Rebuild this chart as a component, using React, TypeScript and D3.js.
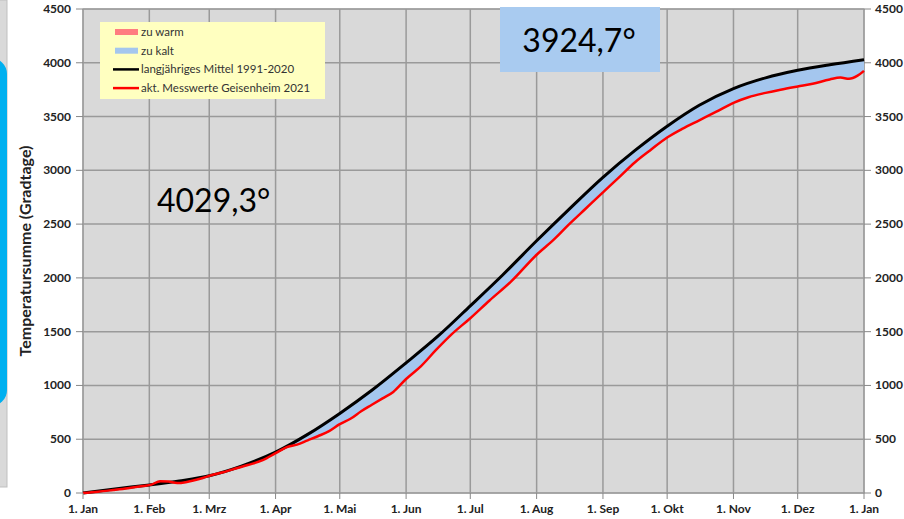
import React from 'react';
import * as d3 from 'd3';

// long-term mean 1991-2020 (day of year, cumulative Gradtage)
const meanDays = [0, 15, 31, 45, 59, 74, 90, 105, 120, 135, 151, 166, 181, 196, 212, 227, 243, 258, 273, 288, 304, 319, 334, 349, 365];
const meanVals = [0, 38, 75, 112, 160, 250, 380, 545, 740, 955, 1210, 1460, 1740, 2025, 2345, 2635, 2935, 3185, 3410, 3605, 3760, 3860, 3930, 3982, 4029.3];

// measured Geisenheim 2021
const actDays = [0, 7, 14, 21, 28, 32, 36, 40, 44, 48, 52, 56, 60, 65, 70, 77, 84, 90, 95, 100, 105, 110, 115, 120, 125, 130, 135, 140, 145, 151, 158, 165, 172, 181, 190, 200, 212, 220, 227, 235, 243, 250, 258, 265, 273, 280, 288, 296, 304, 311, 319, 326, 334, 341, 349, 354, 358, 362, 365];
const actVals = [0, 12, 28, 45, 65, 78, 110, 106, 92, 100, 118, 140, 165, 190, 220, 260, 305, 370, 425, 450, 490, 530, 575, 640, 690, 760, 820, 880, 940, 1060, 1180, 1330, 1470, 1625, 1790, 1965, 2215, 2355, 2495, 2645, 2795, 2925, 3075, 3185, 3305, 3385, 3465, 3545, 3628, 3680, 3720, 3750, 3780, 3805, 3845, 3862, 3852, 3880, 3924.7];

const monthLabels = ['1. Jan', '1. Feb', '1. Mrz', '1. Apr', '1. Mai', '1. Jun', '1. Jul', '1. Aug', '1. Sep', '1. Okt', '1. Nov', '1. Dez', '1. Jan'];
const monthStarts = [0, 31, 59, 90, 120, 151, 181, 212, 243, 273, 304, 334, 365];
const yTicks = [0, 500, 1000, 1500, 2000, 2500, 3000, 3500, 4000, 4500];

const legendItems = [
  { label: 'zu warm', kind: 'patch', color: '#ff7c80' },
  { label: 'zu kalt', kind: 'patch', color: '#a4c6ee' },
  { label: 'langjähriges Mittel 1991-2020', kind: 'line', color: '#000' },
  { label: 'akt. Messwerte Geisenheim 2021', kind: 'line', color: '#ff0000' },
];

const W = 904;
const H = 519;
const m = { left: 83, right: 864, top: 9, bottom: 493 };
const font = 'Lato, "Open Sans", sans-serif';

export default function App() {
  const x = d3.scaleLinear().domain([0, 365]).range([m.left, m.right]);
  const y = d3.scaleLinear().domain([0, 4500]).range([m.bottom, m.top]);

  const mean = meanDays.map((d, i) => [d, meanVals[i]] as [number, number]);
  const act = actDays.map((d, i) => [d, actVals[i]] as [number, number]);

  const curve = d3.curveMonotoneX;
  const line = d3.line<[number, number]>().x(d => x(d[0])).y(d => y(d[1])).curve(curve);

  const below = (pts: [number, number][]) =>
    d3.area<[number, number]>().x(d => x(d[0])).y0(y(0)).y1(d => y(d[1])).curve(curve)(pts) || '';
  const above = (pts: [number, number][]) =>
    d3.area<[number, number]>().x(d => x(d[0])).y0(y(4500)).y1(d => y(d[1])).curve(curve)(pts) || '';

  return (
    <svg width={W} height={H} style={{ position: 'absolute', left: 0, top: 0, background: '#fff' }}>
      <defs>
        <clipPath id="belowMean"><path d={below(mean)} /></clipPath>
        <clipPath id="aboveMean"><path d={above(mean)} /></clipPath>
      </defs>

      {/* left edge decoration */}
      <rect x={-2} y={0} width={9} height={487} fill="#d9d9d9" stroke="#bfbfbf" />
      <rect x={-25} y={58} width={32} height={348} rx={16} fill="#00b0f0" />

      {/* plot area */}
      <rect x={m.left} y={m.top} width={m.right - m.left} height={m.bottom - m.top} fill="#d9d9d9" stroke="#a6a6a6" />
      {yTicks.map(t => (
        <line key={'gy' + t} x1={m.left} x2={m.right} y1={y(t)} y2={y(t)} stroke="#9a9a9a" strokeWidth={1.5} />
      ))}
      {monthStarts.map((d, i) => (
        <line key={'gx' + i} x1={x(d)} x2={x(d)} y1={m.top} y2={m.bottom} stroke="#9a9a9a" strokeWidth={1.5} />
      ))}

      {/* difference fills */}
      <path d={above(act)} fill="#a4c6ee" clipPath="url(#belowMean)" />
      <path d={below(act)} fill="#ff7c80" clipPath="url(#aboveMean)" />

      <path d={line(mean) || ''} fill="none" stroke="#000" strokeWidth={3} />
      <path d={line(act) || ''} fill="none" stroke="#ff0000" strokeWidth={2.5} />

      {/* axes */}
      <g fontFamily={font} fontWeight="bold" fontSize={12} fill="#222">
        {yTicks.map(t => (
          <g key={'ty' + t}>
            <line x1={m.left - 7} x2={m.left} y1={y(t)} y2={y(t)} stroke="#888" />
            <line x1={m.right} x2={m.right + 7} y1={y(t)} y2={y(t)} stroke="#888" />
            <text x={m.left - 12} y={y(t) + 4} textAnchor="end">{t}</text>
            <text x={m.right + 11} y={y(t) + 4} textAnchor="start">{t}</text>
          </g>
        ))}
        {monthStarts.map((d, i) => (
          <g key={'tx' + i}>
            <line x1={x(d)} x2={x(d)} y1={m.bottom} y2={m.bottom + 6} stroke="#888" />
            <text x={x(d)} y={m.bottom + 20} textAnchor="middle">{monthLabels[i]}</text>
          </g>
        ))}
        <text transform={`translate(31,${(m.top + m.bottom) / 2}) rotate(-90)`} textAnchor="middle" fontSize={16}>
          Temperatursumme (Gradtage)
        </text>
      </g>

      {/* legend */}
      <rect x={100} y={22} width={225} height={77} fill="#ffffc0" />
      <g fontFamily={font} fontSize={11.5} fill="#333">
        {legendItems.map((it, i) => {
          const cy = 32 + i * 18.7;
          return (
            <g key={it.label}>
              {it.kind === 'patch'
                ? <rect x={115} y={cy - 3} width={23} height={6} fill={it.color} />
                : <line x1={113} x2={139} y1={cy} y2={cy} stroke={it.color} strokeWidth={2.5} />}
              <text x={141} y={cy + 4}>{it.label}</text>
            </g>
          );
        })}
      </g>

      {/* totals */}
      <text x={157} y={212} fontFamily={font} fontSize={32} fill="#000">4029,3°</text>
      <rect x={500} y={7} width={160} height={65} fill="#a9cbf0" />
      <text x={579} y={52} textAnchor="middle" fontFamily={font} fontSize={32} fill="#000">3924,7°</text>
    </svg>
  );
}
